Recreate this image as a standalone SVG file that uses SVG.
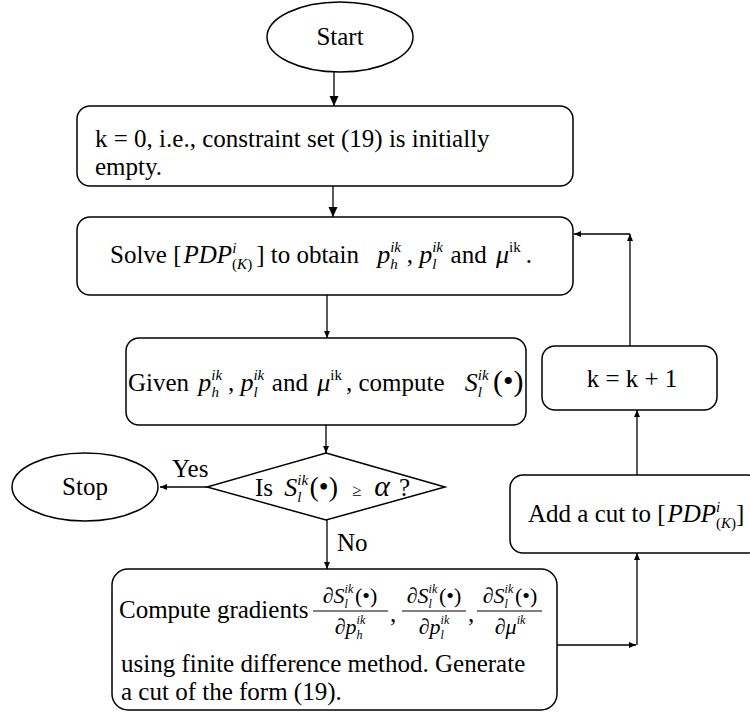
<svg xmlns="http://www.w3.org/2000/svg" width="750" height="715" viewBox="0 0 750 715">
<defs>
<style>
.t{font-family:"Liberation Serif","Times New Roman",serif;font-size:25px;fill:#000}
.i{font-style:italic}
.m{font-size:26px}
.sm{font-size:15px}
.xs{font-size:12px}
.f{font-size:22px}
.n{fill:#fff;stroke:#000;stroke-width:1.5}
.c{stroke:#000;stroke-width:1.3;fill:none}
.fl{stroke:#000;stroke-width:1}
</style>
<marker id="ab" markerUnits="userSpaceOnUse" markerWidth="10" markerHeight="10" refX="10" refY="4.5" orient="auto"><path d="M0,0 L10,4.5 L0,9 z" fill="#000"/></marker>
<marker id="as" markerUnits="userSpaceOnUse" markerWidth="8" markerHeight="8" refX="7" refY="3" orient="auto"><path d="M0,0 L7,3 L0,6 z" fill="#000"/></marker>
</defs>
<rect width="750" height="715" fill="#fff"/>

<g id="connectors">
<line class="c" x1="334" y1="72" x2="334" y2="106" marker-end="url(#ab)"/>
<line class="c" x1="333" y1="186" x2="333" y2="217" marker-end="url(#ab)"/>
<line class="c" x1="327" y1="295" x2="327" y2="338" marker-end="url(#as)"/>
<line class="c" x1="326" y1="425" x2="326" y2="453" marker-end="url(#as)"/>
<line class="c" x1="207" y1="487" x2="160" y2="487" marker-end="url(#as)"/>
<line class="c" x1="327" y1="520" x2="327" y2="569" marker-end="url(#as)"/>
<line class="c" x1="557" y1="645" x2="636" y2="645" marker-end="url(#as)"/>
<line class="c" x1="637" y1="645" x2="637" y2="553" marker-end="url(#as)"/>
<line class="c" x1="637" y1="475" x2="637" y2="410" marker-end="url(#as)"/>
<line class="c" x1="630" y1="346" x2="630" y2="234" marker-end="url(#as)"/>
<line class="c" x1="630" y1="234" x2="574" y2="234" marker-end="url(#as)"/>
<text class="t" x="172" y="477">Yes</text>
<text class="t" x="337" y="551">No</text>
</g>

<g id="start">
<ellipse class="n" cx="340" cy="37" rx="73" ry="35"/>
<text class="t" x="340" y="45" text-anchor="middle">Start</text>
</g>

<g id="init">
<rect class="n" x="77" y="106" width="496" height="80" rx="13"/>
<text class="t" x="95" y="147">k = 0, i.e., constraint set (19) is initially</text>
<text class="t" x="95" y="175">empty.</text>
</g>

<g id="solve">
<rect class="n" x="77" y="217" width="496" height="78" rx="13"/>
<text class="t" x="110" y="263">Solve [<tspan class="i" dx="2">PDP</tspan><tspan class="sm i" dy="-10">i</tspan><tspan class="sm" dx="-4.2" dy="16">(<tspan class="i">K</tspan>)</tspan><tspan dx="4" dy="-6">] to obtain </tspan><tspan class="i m" dx="12">p</tspan><tspan class="sm i" dy="-11">ik</tspan><tspan class="sm i" dx="-10.8" dy="17">h</tspan><tspan dx="9" dy="-6">, </tspan><tspan class="i m">p</tspan><tspan class="sm i" dy="-11">ik</tspan><tspan class="sm i" dx="-10.8" dy="17">l</tspan><tspan dx="8" dy="-6"> and </tspan><tspan class="i m" dx="3">μ</tspan><tspan class="sm" dy="-11">ik</tspan><tspan dx="5" dy="11">.</tspan></text>
</g>

<g id="given">
<rect class="n" x="126" y="338" width="400" height="87" rx="13"/>
<text class="t" x="128" y="391">Given <tspan class="i m" dx="3">p</tspan><tspan class="sm i" dy="-11">ik</tspan><tspan class="sm i" dx="-10.8" dy="17">h</tspan><tspan dx="9" dy="-6">, </tspan><tspan class="i m">p</tspan><tspan class="sm i" dy="-11">ik</tspan><tspan class="sm i" dx="-10.8" dy="17">l</tspan><tspan dx="8" dy="-6"> and </tspan><tspan class="i m" dx="3">μ</tspan><tspan class="sm" dy="-11">ik</tspan><tspan dx="4" dy="11">, compute </tspan><tspan class="i m" dx="14">S</tspan><tspan class="sm i" dy="-11">ik</tspan><tspan class="sm i" dx="-10.8" dy="17">l</tspan><tspan dx="11" dy="-6" font-size="30">(•)</tspan></text>
</g>

<g id="decision">
<polygon class="n" points="326,453 445,487 326,520 207,487"/>
<text class="t" x="255" y="496">Is <tspan class="i m" dx="5">S</tspan><tspan class="sm i" dy="-11">ik</tspan><tspan class="sm i" dx="-10.8" dy="17">l</tspan><tspan dx="8" dy="-6" font-size="28">(•)</tspan><tspan font-size="17" dx="14">≥</tspan><tspan class="i" font-size="30" dx="13">α</tspan><tspan dx="9">?</tspan></text>
</g>

<g id="stop">
<ellipse class="n" cx="85" cy="487" rx="73" ry="34"/>
<text class="t" x="85" y="495" text-anchor="middle">Stop</text>
</g>

<g id="gradients">
<rect class="n" x="112" y="569" width="445" height="141" rx="16"/>
<text class="t" x="119" y="618" font-size="24.5">Compute gradients</text>
<text class="t f" x="350" y="603" text-anchor="middle">∂<tspan class="i">S</tspan><tspan class="xs i" dy="-10">ik</tspan><tspan class="xs i" dx="-8.7" dy="15">l</tspan><tspan dx="7" dy="-5">(•)</tspan></text>
<line class="fl" x1="313" y1="611" x2="388" y2="611"/>
<text class="t f" x="350" y="634" text-anchor="middle">∂<tspan class="i">p</tspan><tspan class="xs i" dy="-10">ik</tspan><tspan class="xs i" dx="-8.7" dy="15">h</tspan></text>
<text class="t" x="390" y="622">,</text>
<text class="t f" x="434" y="603" text-anchor="middle">∂<tspan class="i">S</tspan><tspan class="xs i" dy="-10">ik</tspan><tspan class="xs i" dx="-8.7" dy="15">l</tspan><tspan dx="7" dy="-5">(•)</tspan></text>
<line class="fl" x1="402" y1="611" x2="466" y2="611"/>
<text class="t f" x="434" y="634" text-anchor="middle">∂<tspan class="i">p</tspan><tspan class="xs i" dy="-10">ik</tspan><tspan class="xs i" dx="-8.7" dy="15">l</tspan></text>
<text class="t" x="468" y="622">,</text>
<text class="t f" x="510" y="603" text-anchor="middle">∂<tspan class="i">S</tspan><tspan class="xs i" dy="-10">ik</tspan><tspan class="xs i" dx="-8.7" dy="15">l</tspan><tspan dx="7" dy="-5">(•)</tspan></text>
<line class="fl" x1="477" y1="611" x2="542" y2="611"/>
<text class="t f" x="510" y="634" text-anchor="middle">∂<tspan class="i">μ</tspan><tspan class="xs i" dy="-10">ik</tspan></text>
<text class="t" x="121" y="672">using finite difference method. Generate</text>
<text class="t" x="121" y="700">a cut of the form (19).</text>
</g>

<g id="addcut">
<rect class="n" x="510" y="475" width="250" height="78" rx="13"/>
<text class="t" x="528" y="522">Add a cut to [<tspan class="i" dx="2">PDP</tspan><tspan class="sm i" dy="-10">i</tspan><tspan class="sm" dx="-4.2" dy="16">(<tspan class="i">K</tspan>)</tspan><tspan dy="-6">]</tspan></text>
</g>

<g id="increment">
<rect class="n" x="542" y="346" width="175" height="64" rx="13"/>
<text class="t" x="632" y="387" text-anchor="middle">k = k + 1</text>
</g>
</svg>
